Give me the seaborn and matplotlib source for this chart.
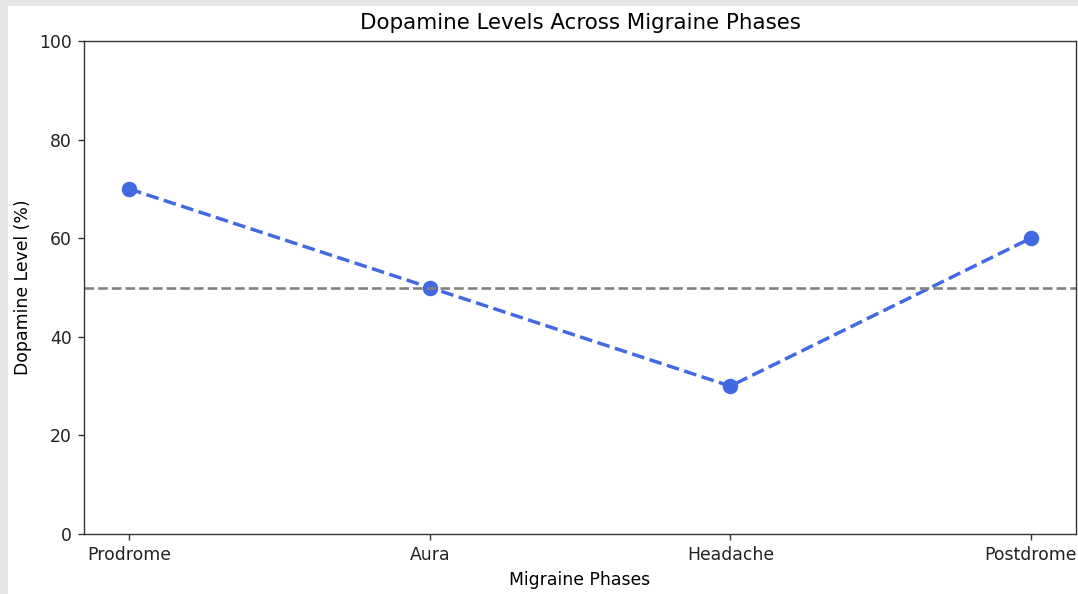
import pandas as pd
import seaborn as sns
from matplotlib import pyplot as plt
from matplotlib.patches import Rectangle

PHASES = ['Prodrome', 'Aura', 'Headache', 'Postdrome']
DOPAMINE = [70, 50, 30, 60]
BASELINE = 50

DPI = 124


def main():
    df = pd.DataFrame({'Phase': PHASES, 'Dopamine': DOPAMINE})

    fig = plt.figure(figsize=(1078 / DPI, 594 / DPI), dpi=DPI, facecolor='#e5e5e5')
    # white page area of the screenshot
    fig.patches.append(Rectangle((8 / 1078, 0), 1, 1 - 6 / 594, transform=fig.transFigure,
                                 facecolor='white', edgecolor='none', zorder=-1))

    ax = fig.add_axes([84 / 1078, 60 / 594, 992 / 1078, 493 / 594])

    sns.lineplot(x='Phase', y='Dopamine', data=df, ax=ax, color='royalblue',
                 linestyle='--', linewidth=2, marker='o', markersize=9,
                 markeredgewidth=0)
    ax.axhline(BASELINE, color='gray', linestyle='--', linewidth=1.5)

    ax.set_ylim(0, 100)
    ax.set_title('Dopamine Levels Across Migraine Phases', fontsize=12.4, pad=7)
    ax.set_xlabel('Migraine Phases')
    ax.set_ylabel('Dopamine Level (%)')

    for spine in ax.spines.values():
        spine.set_color('#333333')
    ax.tick_params(colors='#333333', labelcolor='#222222')

    fig.savefig('out.png', dpi=DPI, facecolor=fig.get_facecolor())


if __name__ == '__main__':
    main()
